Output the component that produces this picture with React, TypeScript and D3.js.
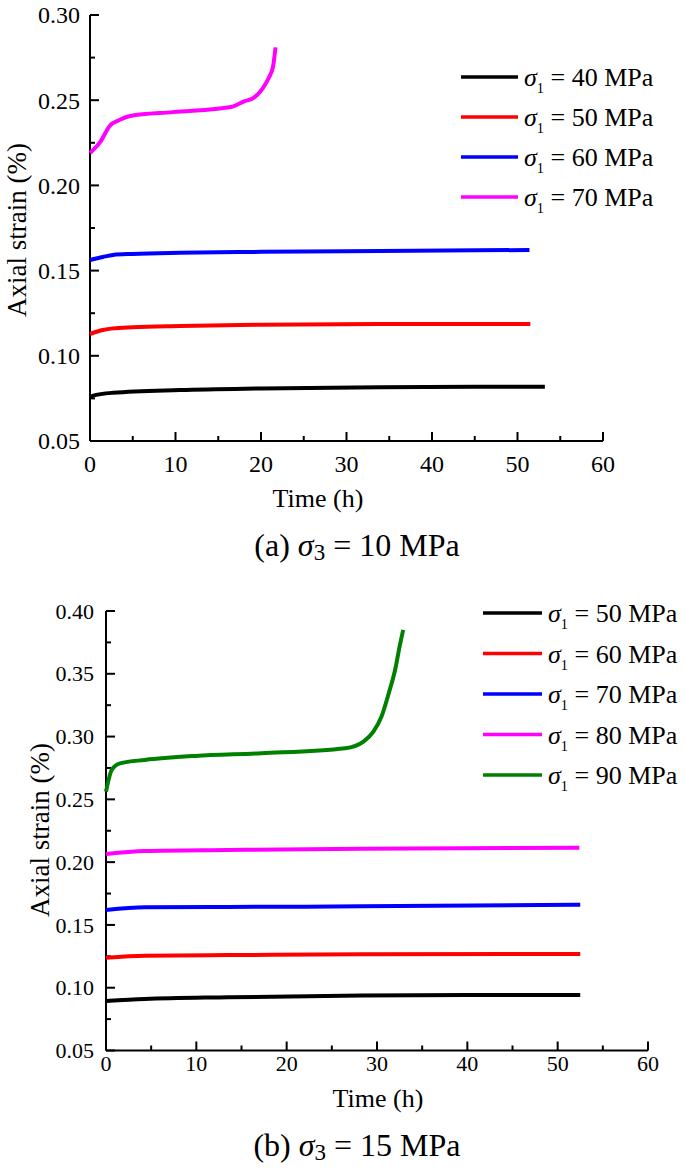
import React, { useEffect, useRef } from 'react';
import * as d3 from 'd3';

// panel (a): sigma3 = 10 MPa
const timeA40 = [0, 0.3, 2.7, 10.5, 20, 33.9, 45, 53.2];
const strainA40 = [0.0755, 0.0765, 0.0783, 0.0799, 0.0808, 0.0815, 0.0818, 0.0819];
const timeA50 = [0, 1.5, 2.7, 5, 10.5, 20, 33.9, 51.5];
const strainA50 = [0.1128, 0.1151, 0.1161, 0.1168, 0.1175, 0.1182, 0.1187, 0.1187];
const timeA60 = [0, 1.5, 2.7, 5, 10.5, 20, 33.9, 51.4];
const strainA60 = [0.1562, 0.158, 0.1592, 0.1598, 0.1605, 0.161, 0.1615, 0.1621];
const timeA70 = [0, 1.2, 2.3, 3.5, 4.7, 9.7, 16.5, 18.1, 18.9, 20.2, 20.9, 21.4, 21.7];
const strainA70 = [0.219, 0.2255, 0.2349, 0.2385, 0.2407, 0.243, 0.246, 0.2495, 0.2507, 0.257, 0.263, 0.2695, 0.281];

// panel (b): sigma3 = 15 MPa
const timeB50 = [0, 4.3, 13.5, 28.3, 40, 52.5];
const strainB50 = [0.0894, 0.091, 0.0924, 0.0938, 0.0942, 0.0942];
const timeB60 = [0, 4.3, 13.5, 28.3, 52.5];
const strainB60 = [0.1239, 0.1255, 0.126, 0.1266, 0.1269];
const timeB70 = [0, 4.3, 13.5, 28.3, 52.5];
const strainB70 = [0.1619, 0.164, 0.1643, 0.1648, 0.1661];
const timeB80 = [0, 4.3, 13.5, 28.3, 52.4];
const strainB80 = [0.2065, 0.2089, 0.2097, 0.2107, 0.2115];
const timeB90 = [0, 0.63, 1.55, 4.3, 9.9, 17.2, 26.5, 28.5, 29.6, 30.5, 31.3, 32.0, 32.5, 32.9];
const strainB90 = [0.2561, 0.2734, 0.2787, 0.2814, 0.2846, 0.2867, 0.2907, 0.296, 0.304, 0.316, 0.3345, 0.353, 0.3716, 0.385];

const labelsA = ['40', '50', '60', '70'];
const labelsB = ['50', '60', '70', '80', '90'];
const colorsA = ['#000000', '#ff0000', '#0000ff', '#ff00ff'];
const colorsB = ['#000000', '#ff0000', '#0000ff', '#ff00ff', '#008000'];
const xTicks = [0, 10, 20, 30, 40, 50, 60];

const FONT = '"Liberation Serif", "Times New Roman", serif';

function drawPanel(root, cfg) {
  const g = root.append('g');
  const x = d3.scaleLinear().domain([0, 60]).range([cfg.left, cfg.right]);
  const y = d3.scaleLinear().domain(cfg.yDomain).range([cfg.bottom, cfg.top]);

  // axes lines
  g.append('line').attr('x1', cfg.left).attr('x2', cfg.left)
    .attr('y1', cfg.top).attr('y2', cfg.bottom).attr('stroke', '#000').attr('stroke-width', 2);
  g.append('line').attr('x1', cfg.left).attr('x2', cfg.right)
    .attr('y1', cfg.bottom).attr('y2', cfg.bottom).attr('stroke', '#000').attr('stroke-width', 2);

  // y ticks (inside)
  const yMajor = d3.range(cfg.yDomain[0], cfg.yDomain[1] + 1e-9, 0.05);
  const yMinor = d3.range(cfg.yDomain[0] + 0.025, cfg.yDomain[1], 0.05);
  yMajor.forEach(v => {
    g.append('line').attr('x1', cfg.left).attr('x2', cfg.left + 9)
      .attr('y1', y(v)).attr('y2', y(v)).attr('stroke', '#000').attr('stroke-width', 2);
    g.append('text').attr('x', cfg.left - cfg.yLabelGap).attr('y', y(v)).attr('dy', '0.35em')
      .attr('text-anchor', 'end').attr('font-size', cfg.tickSize).attr('font-family', FONT)
      .text(v.toFixed(2));
  });
  yMinor.forEach(v => {
    g.append('line').attr('x1', cfg.left).attr('x2', cfg.left + 5)
      .attr('y1', y(v)).attr('y2', y(v)).attr('stroke', '#000').attr('stroke-width', 2);
  });

  // x ticks
  xTicks.forEach(v => {
    g.append('line').attr('x1', x(v)).attr('x2', x(v))
      .attr('y1', cfg.bottom).attr('y2', cfg.bottom - 9).attr('stroke', '#000').attr('stroke-width', 2);
    g.append('text').attr('x', x(v)).attr('y', cfg.xLabelY)
      .attr('text-anchor', 'middle').attr('font-size', cfg.tickSize).attr('font-family', FONT)
      .text(v);
  });
  d3.range(5, 60, 10).forEach(v => {
    g.append('line').attr('x1', x(v)).attr('x2', x(v))
      .attr('y1', cfg.bottom).attr('y2', cfg.bottom - 5).attr('stroke', '#000').attr('stroke-width', 2);
  });

  // titles
  g.append('text').attr('x', cfg.timeX).attr('y', cfg.timeY).attr('text-anchor', 'middle')
    .attr('font-size', cfg.timeSize).attr('font-family', FONT).text('Time (h)');
  g.append('text')
    .attr('transform', `translate(${cfg.yTitleX},${cfg.yTitleY}) rotate(-90)`)
    .attr('text-anchor', 'middle').attr('font-size', cfg.yTitleSize).attr('font-family', FONT)
    .text('Axial strain (%)');

  const cap = g.append('text').attr('x', cfg.capX).attr('y', cfg.capY).attr('text-anchor', 'middle')
    .attr('font-size', 32).attr('font-family', FONT);
  cap.append('tspan').text(`(${cfg.tag}) `);
  cap.append('tspan').attr('font-style', 'italic').text('σ');
  cap.append('tspan').attr('font-size', 23).attr('dy', 4).text('3');
  cap.append('tspan').attr('dy', -4).text(` = ${cfg.sigma3} MPa`);

  // curves
  const line = d3.line().x(d => x(d[0])).y(d => y(d[1])).curve(d3.curveMonotoneX);
  cfg.series.forEach((s, i) => {
    const pts = s.t.map((t, j) => [t, s.v[j]]);
    g.append('path').attr('d', line(pts)).attr('fill', 'none')
      .attr('stroke', cfg.colors[i]).attr('stroke-width', 4)
      .attr('stroke-linejoin', 'round');
  });

  // legend
  cfg.labels.forEach((lab, i) => {
    const ly = cfg.legY + i * cfg.legStep;
    g.append('line').attr('x1', cfg.legX).attr('x2', cfg.legX + cfg.legLen)
      .attr('y1', ly).attr('y2', ly).attr('stroke', cfg.colors[i]).attr('stroke-width', 3.5);
    const t = g.append('text').attr('x', cfg.legX + cfg.legLen + 6).attr('y', ly + 9)
      .attr('font-size', cfg.legSize).attr('font-family', FONT);
    t.append('tspan').attr('font-style', 'italic').text('σ');
    t.append('tspan').attr('font-size', cfg.legSize * 0.55).attr('dy', 7).text('1');
    t.append('tspan').attr('dy', -7).text(` = ${lab} MPa`);
  });
}

export default function App() {
  const svgRef = useRef(null);

  useEffect(() => {
    const svg = d3.select(svgRef.current);
    svg.selectAll('*').remove();

    drawPanel(svg, {
      tag: 'a', sigma3: 10,
      left: 90, right: 603, top: 15, bottom: 441, yDomain: [0.05, 0.30],
      tickSize: 24, yLabelGap: 10, xLabelY: 472, timeSize: 26, timeX: 318, timeY: 507,
      yTitleSize: 27, yTitleX: 26, yTitleY: 230, capX: 357, capY: 556,
      series: [
        { t: timeA40, v: strainA40 }, { t: timeA50, v: strainA50 },
        { t: timeA60, v: strainA60 }, { t: timeA70, v: strainA70 },
      ],
      colors: colorsA, labels: labelsA,
      legX: 461, legLen: 57, legY: 77, legStep: 40, legSize: 26,
    });

    drawPanel(svg, {
      tag: 'b', sigma3: 15,
      left: 106, right: 648, top: 611, bottom: 1050.5, yDomain: [0.05, 0.40],
      tickSize: 22, yLabelGap: 12, xLabelY: 1071, timeSize: 26, timeX: 378, timeY: 1107,
      yTitleSize: 27, yTitleX: 49, yTitleY: 830, capX: 357, capY: 1156,
      series: [
        { t: timeB50, v: strainB50 }, { t: timeB60, v: strainB60 },
        { t: timeB70, v: strainB70 }, { t: timeB80, v: strainB80 },
        { t: timeB90, v: strainB90 },
      ],
      colors: colorsB, labels: labelsB,
      legX: 483, legLen: 59, legY: 613, legStep: 40.5, legSize: 26,
    });
  }, []);

  return (
    <div style={{ position: 'absolute', left: 0, top: 0 }}>
      <svg ref={svgRef} width={685} height={1169} style={{ display: 'block', background: '#fff' }} />
    </div>
  );
}
